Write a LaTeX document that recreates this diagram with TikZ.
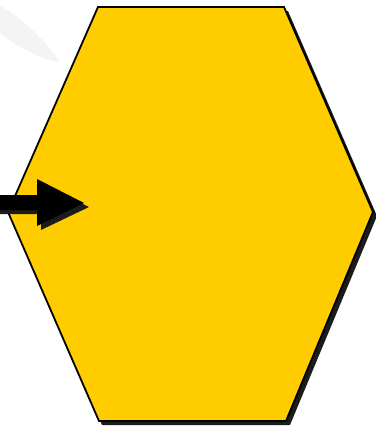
\documentclass[tikz,border=0pt]{standalone}
\begin{document}
\begin{tikzpicture}[x=1pt,y=-1pt,
  hexfill/.style={fill={rgb,255:red,255;green,204;blue,0},draw=black,line width=1.8pt,line join=miter},
  shadow/.style={fill={rgb,255:red,28;green,28;blue,28}},
  arrowshape/.style={fill=black}]
\useasboundingbox (0,0) rectangle (375,431);
% faint watermark
\fill[gray!9] (0,6) .. controls (20,16) and (45,40) .. (60,62) .. controls (40,60) and (15,45) .. (0,33) -- cycle;
% hexagon shadow
\fill[shadow] (102,11) -- (288,11) -- (377,216) -- (290,425) -- (102,425) -- (12,216) -- cycle;
% hexagon
\node[coordinate] (c) at (190,213) {};
\path[hexfill] (98,7) -- (284,7) -- (373,212) -- (286,421) -- (99,421) -- (8,212) -- cycle;
% arrow shadow
\fill[shadow] (0,199) -- (41,199) -- (41,183) -- (89,207) -- (41,230) -- (41,214) -- (0,214) -- cycle;
% arrow
\fill[arrowshape] (0,195) -- (37,195) -- (37,179) -- (84,203) -- (37,226) -- (37,210) -- (0,210) -- cycle;
\end{tikzpicture}
\end{document}
